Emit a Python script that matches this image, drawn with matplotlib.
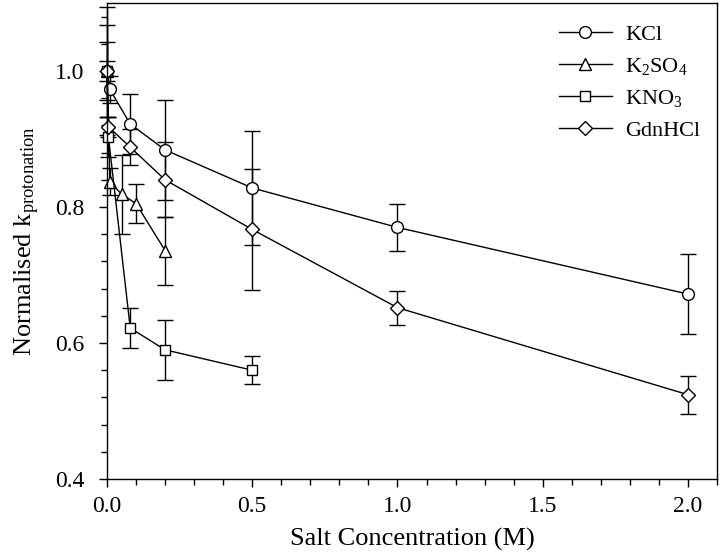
import matplotlib
matplotlib.use("Agg")
import matplotlib.pyplot as plt
from matplotlib.ticker import MultipleLocator
from matplotlib.lines import Line2D

plt.rcParams['font.family'] = ['Liberation Serif', 'DejaVu Serif']
plt.rcParams['mathtext.fontset'] = 'custom'
plt.rcParams['mathtext.rm'] = 'Liberation Serif'
plt.rcParams['mathtext.it'] = 'Liberation Serif:italic'

# KCl
kcl_x = [0.0, 0.01, 0.08, 0.2, 0.5, 1.0, 2.0]
kcl_y = [1.0, 0.973, 0.922, 0.884, 0.828, 0.770, 0.672]
kcl_e = [0.094, 0.020, 0.044, 0.073, 0.084, 0.034, 0.059]

# K2SO4
k2so4_x = [0.0, 0.01, 0.05, 0.1, 0.2]
k2so4_y = [1.0, 0.837, 0.819, 0.805, 0.736]
k2so4_e = [0.068, 0.020, 0.058, 0.029, 0.050]

# KNO3
kno3_x = [0.0, 0.005, 0.08, 0.2, 0.5]
kno3_y = [1.0, 0.903, 0.622, 0.590, 0.560]
kno3_e = [0.043, 0.030, 0.030, 0.044, 0.021]

# GdnHCl
gdn_x = [0.0, 0.005, 0.08, 0.2, 0.5, 1.0, 2.0]
gdn_y = [1.0, 0.918, 0.888, 0.840, 0.767, 0.652, 0.524]
gdn_e = [0.014, 0.015, 0.026, 0.055, 0.089, 0.025, 0.028]

series = [
    (kcl_x, kcl_y, kcl_e, 'o', 8.5, 'KCl'),
    (k2so4_x, k2so4_y, k2so4_e, '^', 8.5, 'K$_2$SO$_4$'),
    (kno3_x, kno3_y, kno3_e, 's', 7.5, 'KNO$_3$'),
    (gdn_x, gdn_y, gdn_e, 'D', 7.5, 'GdnHCl'),
]

fig = plt.figure(figsize=(7.2, 5.59), dpi=100)
ax = fig.add_axes([0.1486, 0.1431, 0.8472, 0.8515])

handles = []
for x, y, e, m, ms, lab in series:
    ax.errorbar(x, y, yerr=e, fmt='-', marker=m, color='black', mfc='white',
                mec='black', ms=ms, mew=1.0, lw=1.0, elinewidth=1.0,
                capsize=5.5, capthick=1.0, clip_on=False)
    handles.append(Line2D([], [], color='black', lw=1.0, marker=m, ms=ms,
                          mfc='white', mec='black', mew=1.0, label=lab))

ax.set_xlim(0, 2.1)
ax.set_ylim(0.4, 1.1)
ax.xaxis.set_major_locator(MultipleLocator(0.5))
ax.xaxis.set_minor_locator(MultipleLocator(0.1))
ax.yaxis.set_major_locator(MultipleLocator(0.2))
ax.yaxis.set_minor_locator(MultipleLocator(0.04))
ax.set_xticks([0.0, 0.5, 1.0, 1.5, 2.0])
ax.set_yticks([0.4, 0.6, 0.8, 1.0])
ax.set_xticklabels(['0.0', '0.5', '1.0', '1.5', '2.0'])
ax.set_yticklabels(['0.4', '0.6', '0.8', '1.0'])
ax.tick_params(axis='both', which='major', direction='out', length=6, width=1.0,
               labelsize=17)
ax.tick_params(axis='x', which='major', pad=6)
ax.tick_params(axis='y', which='major', pad=10)
ax.tick_params(axis='both', which='minor', direction='out', length=4, width=1.0)
for s in ax.spines.values():
    s.set_linewidth(1.0)

ax.set_xlabel('Salt Concentration (M)', fontsize=19, labelpad=8)
ax.set_ylabel('Normalised k$_{\\mathrm{protonation}}$', fontsize=19, labelpad=10)

leg = ax.legend(handles=handles, loc='upper right', frameon=False, fontsize=16,
                handlelength=2.4, handletextpad=0.6, labelspacing=0.5,
                borderaxespad=0.35, bbox_to_anchor=(1.0, 0.99))

fig.savefig('out.png', dpi=100)
